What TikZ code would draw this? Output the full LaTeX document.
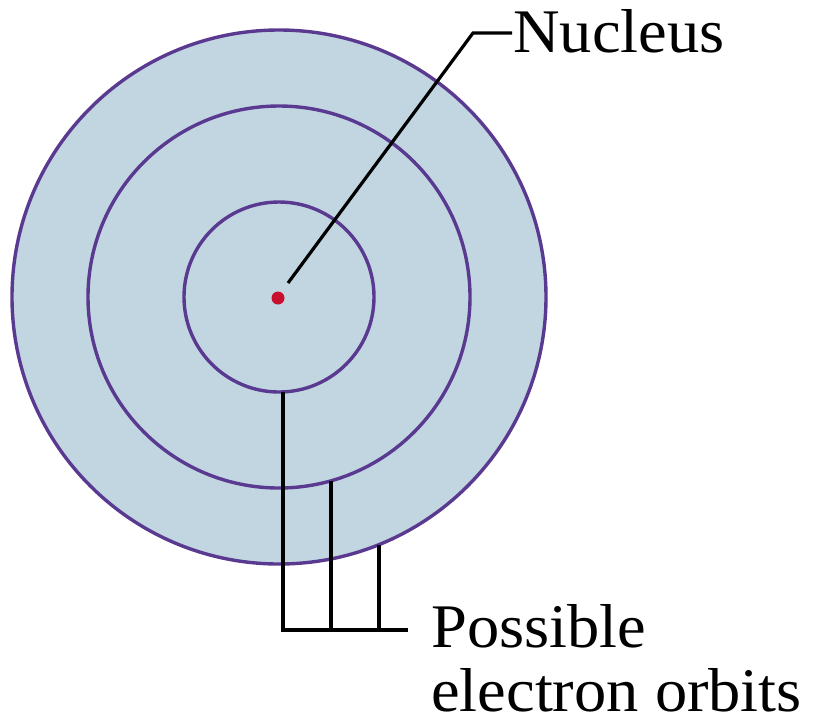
\documentclass[tikz,border=0pt]{standalone}
\usepackage{fontspec}
\setmainfont[FakeStretch=1.04]{Liberation Serif}
\definecolor{fillblue}{RGB}{193,214,224}
\definecolor{orbitc}{RGB}{90,58,145}
\definecolor{nucred}{RGB}{200,16,46}
\begin{document}
\begin{tikzpicture}[x=1pt,y=-1pt,
  orbit/.style={draw=orbitc, line width=3.4pt},
  leader/.style={draw=black, line width=3.2pt, line join=miter},
  lbl/.style={font=\fontsize{62}{64}\selectfont, inner sep=0pt, align=left}]
\useasboundingbox (0,0) rectangle (813,724);
% atom
\fill[fillblue] (279,297) circle[radius=267pt];
\draw[orbit] (279,297) circle[radius=267pt];
\draw[orbit] (279,297) circle[radius=191pt];
\draw[orbit] (279,297) circle[radius=95pt];
\node (nucleus) [circle, fill=nucred, minimum size=13pt, inner sep=0pt] at (278,298) {};
% nucleus label
\node (nuclbl) [lbl, anchor=base west] at (513,52) {Nucleus};
\coordinate (nucstart) at (288,283);
\coordinate (nucbend) at (473,33);
\coordinate (nucend) at (512,33);
\draw[leader] (nucstart) -- (nucbend) -- (nucend);
% orbit leaders
\coordinate (o1) at (283,392);
\coordinate (o2) at (331,481);
\coordinate (o3) at (379,545);
\coordinate (b1) at (283,630);
\coordinate (b2) at (331,630);
\coordinate (b3) at (379,630);
\coordinate (bend) at (408,630);
\draw[leader] (o1) -- (b1) -- (bend);
\draw[leader] (o2) -- (b2);
\draw[leader] (o3) -- (b3);
\node (orblbl) [lbl, text depth=0pt, anchor=base west] at (431,711) {Possible\\electron orbits};
\end{tikzpicture}
\end{document}
